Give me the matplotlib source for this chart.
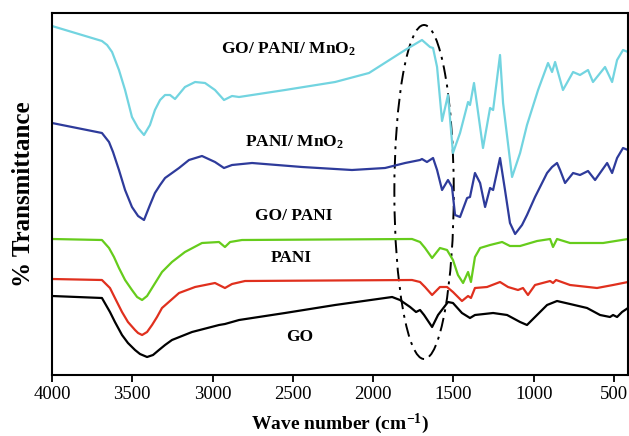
import matplotlib
matplotlib.use("Agg")
import matplotlib.pyplot as plt
from matplotlib.patches import Ellipse

plt.rcParams['font.family'] = ['Liberation Serif', 'DejaVu Serif']
plt.rcParams['mathtext.fontset'] = 'custom'
plt.rcParams['mathtext.rm'] = 'Liberation Serif:bold'
plt.rcParams['mathtext.it'] = 'Liberation Serif:bold'
plt.rcParams['mathtext.bf'] = 'Liberation Serif:bold'

# ---- data (wavenumber cm-1, relative transmittance, offset spectra) ----
go_pani_mno2_wn = [4000, 3689, 3657, 3626, 3583, 3545, 3502, 3464, 3427, 3390, 3359, 3327, 3296, 3265,
                   3234, 3172, 3109, 3047, 2985, 2929, 2879, 2835, 2549, 2237, 2026, 1801, 1696, 1646,
                   1627, 1602, 1571, 1534, 1503, 1459, 1409, 1397, 1372, 1316, 1272, 1253, 1210, 1191,
                   1135, 1085, 1042, 973, 911, 886, 867, 818, 755, 712, 662, 631, 556, 512, 481, 444, 413]
go_pani_mno2_t = [374, 359, 355, 348, 330, 310, 283, 272, 265, 275, 290, 300, 305, 305,
                  301, 313, 318, 317, 310, 300, 304, 303, 310, 318, 327, 350, 360, 353,
                  352, 333, 279, 305, 247, 267, 298, 295, 317, 252, 292, 290, 345, 297,
                  223, 247, 275, 310, 337, 328, 338, 310, 328, 325, 330, 318, 333, 318, 340, 350, 348]

pani_mno2_wn = [4000, 3689, 3645, 3620, 3583, 3545, 3502, 3464, 3427, 3390, 3359, 3327, 3296, 3209,
                3147, 3066, 2985, 2929, 2879, 2754, 2443, 2132, 1926, 1801, 1708, 1696, 1665, 1627,
                1602, 1571, 1534, 1509, 1490, 1459, 1415, 1397, 1366, 1334, 1303, 1272, 1253, 1210,
                1179, 1148, 1116, 1073, 1042, 992, 917, 886, 855, 836, 805, 755, 712, 662, 618, 543,
                512, 481, 444, 413]
pani_mno2_t = [277, 267, 258, 248, 230, 210, 193, 184, 180, 195, 207, 215, 222, 232,
               240, 244, 238, 232, 235, 237, 233, 230, 232, 237, 240, 241, 238, 242,
               230, 210, 220, 213, 185, 183, 202, 203, 227, 217, 193, 212, 210, 242,
               210, 177, 166, 175, 185, 203, 227, 233, 237, 230, 217, 227, 225, 229, 220, 237,
               227, 242, 252, 250]

go_pani_wn = [4000, 3689, 3645, 3614, 3583, 3545, 3502, 3470, 3439, 3408, 3377, 3346, 3315, 3253,
              3172, 3066, 2960, 2923, 2891, 2817, 1758, 1708, 1677, 1633, 1584, 1540, 1503, 1472,
              1440, 1409, 1391, 1366, 1334, 1272, 1197, 1148, 1085, 979, 898, 880, 855, 774, 568, 413]
go_pani_t = [161, 160, 152, 143, 132, 120, 110, 103, 100, 104, 112, 120, 128, 138,
             148, 157, 158, 153, 158, 160, 161, 158, 152, 142, 152, 150, 140, 125,
             117, 128, 118, 143, 152, 155, 158, 154, 154, 159, 161, 153, 161, 157, 157, 161]

pani_wn = [4000, 3689, 3639, 3608, 3564, 3527, 3483, 3464, 3439, 3408, 3377, 3346, 3315, 3209,
           3109, 2985, 2923, 2879, 2798, 1758, 1708, 1677, 1633, 1584, 1540, 1503, 1447, 1409,
           1391, 1366, 1291, 1210, 1160, 1098, 1067, 1036, 992, 898, 880, 861, 774, 606, 506, 413]
pani_t = [121, 120, 112, 102, 88, 78, 70, 67, 65, 68, 75, 83, 92, 107,
          113, 117, 112, 116, 119, 120, 118, 113, 105, 113, 113, 108, 99, 104,
          102, 112, 113, 118, 113, 110, 112, 105, 115, 119, 117, 120, 115, 112, 115, 118]

go_wn = [4000, 3689, 3639, 3608, 3564, 3527, 3483, 3452, 3408, 3371, 3334, 3296, 3253, 3128,
         2960, 2923, 2835, 2549, 2237, 1882, 1833, 1770, 1733, 1708, 1683, 1633, 1596, 1534,
         1503, 1447, 1397, 1366, 1253, 1166, 1085, 1042, 992, 917, 855, 774, 668, 587, 525,
         506, 481, 450, 413]
go_t = [104, 102, 88, 78, 65, 57, 50, 46, 43, 45, 50, 55, 60, 68,
        75, 76, 80, 87, 95, 103, 100, 93, 88, 90, 85, 73, 85, 98,
        97, 87, 82, 85, 87, 85, 78, 75, 83, 95, 99, 96, 92, 85, 83,
        85, 83, 88, 92]

series = [
    (go_pani_mno2_wn, go_pani_mno2_t, '#72d4e0'),
    (pani_mno2_wn, pani_mno2_t, '#2e3b9b'),
    (go_pani_wn, go_pani_t, '#66cc1c'),
    (pani_wn, pani_t, '#e0301e'),
    (go_wn, go_t, '#000000'),
]

labels = ['GO/ PANI/ MnO$_2$', 'PANI/ MnO$_2$', 'GO/ PANI', 'PANI', 'GO']
label_x = [2530, 2493, 2493, 2512, 2455]
label_y = [351, 258, 184, 142, 63]

fig = plt.figure(figsize=(6.29, 4.36), dpi=100)
ax = fig.add_axes([52 / 629, 1 - 375 / 436, 576 / 629, 362 / 436])

for wn, t, c in series:
    ax.plot(wn, t, color=c, lw=1.6, solid_joinstyle='round')

for lab, lx, ly in zip(labels, label_x, label_y):
    ax.text(lx, ly, lab, ha='center', va='center', fontsize=12.5, fontweight='bold')

ell = Ellipse((1683, 208), width=370, height=334, fill=False, edgecolor='black',
              lw=1.4, linestyle=(0, (7, 3, 1.5, 3)), clip_on=False)
ax.add_patch(ell)

ax.set_xlim(4000, 413)
ax.set_ylim(25, 387)
ax.set_xticks([4000, 3500, 3000, 2500, 2000, 1500, 1000, 500])
ax.set_yticks([])
ax.tick_params(axis='x', direction='out', length=5, width=1.3, labelsize=13.5, pad=3)
for s in ax.spines.values():
    s.set_linewidth(1.5)

ax.set_xlabel('Wave number (cm$^{-1}$)', fontsize=14, fontweight='bold', labelpad=6)
ax.set_ylabel('% Transmittance', fontsize=18, fontweight='bold', labelpad=12)

fig.savefig('out.png', dpi=100)
